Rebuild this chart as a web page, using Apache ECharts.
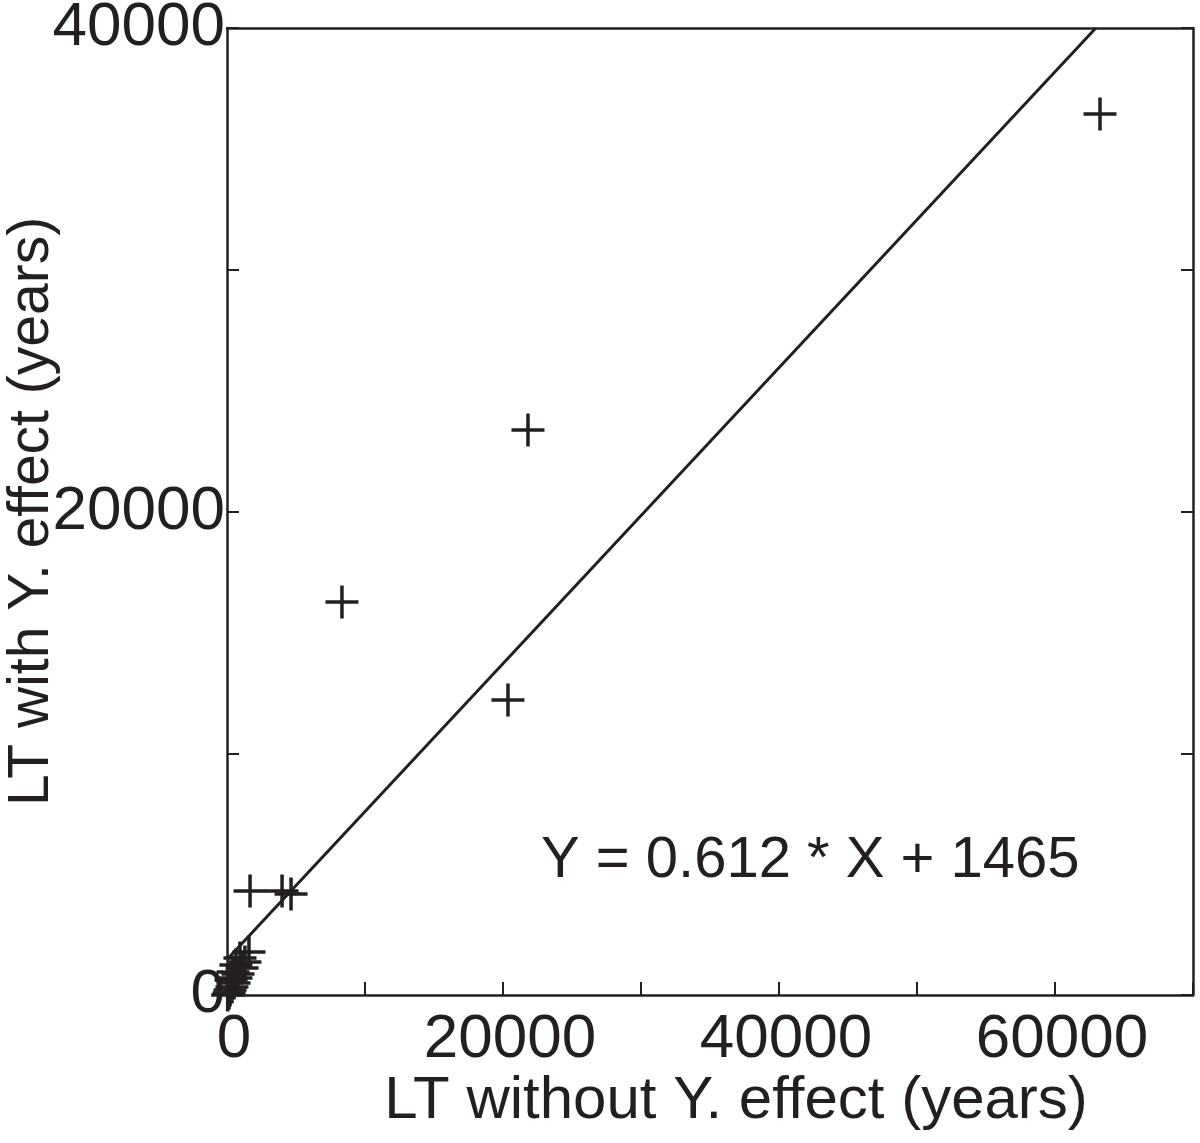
<!DOCTYPE html>
<html>
<head>
<meta charset="utf-8">
<script src="https://cdn.jsdelivr.net/npm/echarts@6/dist/echarts.min.js"></script>
<style>
html,body{margin:0;padding:0;background:#fff;}
#chart{width:1200px;height:1143px;}
</style>
</head>
<body>
<div id="chart"></div>
<script>
// Data
var ltWithoutY = [63260, 21810, 8330, 20360, 1670, 3990, 4640,
  1590, 1300, 1090, 800, 650, 510, 360, 220, 150, 940, 650, 440, 290, 50];
var ltWithY = [36440, 23370, 16260, 12200, 4300, 4300, 4180,
  1780, 1370, 1120, 870, 700, 500, 330, 210, 80, 1530, 1240, 950, 620, 0];
var fitX = [0, 62960];
var fitY = [1465, 40000];
var xTicks = [0, 20000, 40000, 60000];
var yTicks = [0, 20000, 40000];
var equationText = 'Y = 0.612 * X + 1465';
var xTitle = 'LT without Y. effect (years)';
var yTitle = 'LT with Y. effect (years)';

var ink = '#231f20';
var font = 'Liberation Sans, Arial, Helvetica, sans-serif';

var points = ltWithoutY.map(function (x, i) { return [x, ltWithY[i]]; });
var fitLine = fitX.map(function (x, i) { return [x, fitY[i]]; });

var chart = echarts.init(document.getElementById('chart'), null, {renderer: 'canvas'});
chart.setOption({
  backgroundColor: '#ffffff',
  animation: false,
  grid: {left: 227, right: 7, top: 28, bottom: 148, containLabel: false, outerBoundsMode: 'none'},
  xAxis: [{
    type: 'value', min: 0, max: 70000, interval: 10000,
    name: xTitle, nameLocation: 'middle', nameGap: 76, nameMoveOverlap: false,
    nameTextStyle: {fontFamily: font, fontSize: 60, color: ink, padding: [0, 0, 0, 52]},
    axisLine: {show: true, onZero: false, lineStyle: {color: ink, width: 2.5}},
    axisTick: {show: true, inside: true, length: 13, lineStyle: {color: ink, width: 2}},
    splitLine: {show: false},
    axisLabel: {
      fontFamily: font, fontSize: 62, color: ink, margin: 14, padding: [0, 0, 0, 14],
      formatter: function (v) { return xTicks.indexOf(v) >= 0 ? String(v) : ''; }
    }
  }, {
    type: 'value', position: 'top', min: 0, max: 70000, interval: 10000,
    axisLine: {show: true, onZero: false, lineStyle: {color: ink, width: 2.5}},
    axisTick: {show: false}, axisLabel: {show: false}, splitLine: {show: false}
  }],
  yAxis: [{
    type: 'value', min: 0, max: 40000, interval: 10000,
    name: yTitle, nameLocation: 'middle', nameGap: 166, nameRotate: 90, nameMoveOverlap: false,
    nameTextStyle: {fontFamily: font, fontSize: 57, color: ink},
    axisLine: {show: true, onZero: false, lineStyle: {color: ink, width: 2.5}},
    axisTick: {show: true, inside: true, length: 12, lineStyle: {color: ink, width: 2}},
    splitLine: {show: false},
    axisLabel: {
      fontFamily: font, fontSize: 62, color: ink, margin: 2,
      formatter: function (v) { return yTicks.indexOf(v) >= 0 ? String(v) : ''; }
    }
  }, {
    type: 'value', position: 'right', min: 0, max: 40000, interval: 10000,
    axisLine: {show: true, onZero: false, lineStyle: {color: ink, width: 2.5}},
    axisTick: {show: true, inside: true, length: 12, lineStyle: {color: ink, width: 2}},
    axisLabel: {show: false}, splitLine: {show: false}
  }],
  series: [{
    type: 'line',
    data: fitLine,
    symbol: 'none',
    lineStyle: {color: ink, width: 3},
    z: 2
  }, {
    type: 'scatter',
    data: points,
    symbol: 'path://M16,0L16,32M0,16L32,16',
    symbolSize: 33,
    itemStyle: {color: 'none', borderColor: ink, borderWidth: 3.5, opacity: 1},
    z: 3
  }],
  graphic: [{
    type: 'text',
    left: 541, top: 832,
    style: {text: equationText, fontFamily: font, fontSize: 58, fill: ink}
  }]
});
</script>
</body>
</html>
